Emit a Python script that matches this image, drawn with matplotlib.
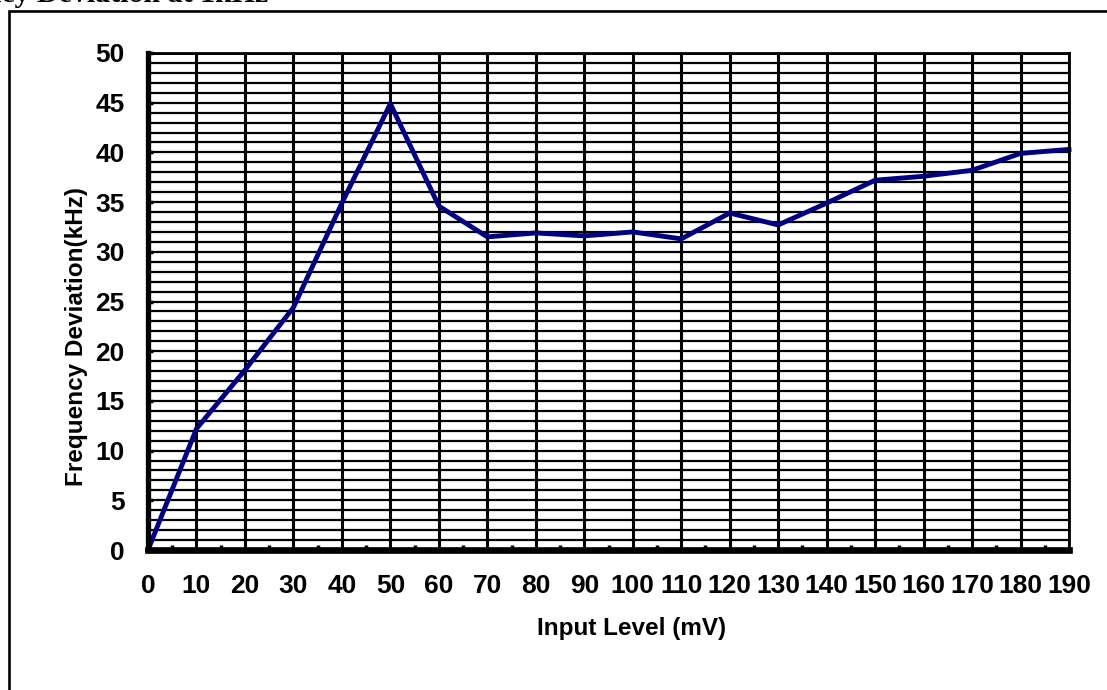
import matplotlib
matplotlib.use("Agg")
import matplotlib.pyplot as plt
from matplotlib.patches import Rectangle

# Data
input_level_mv = [0, 10, 20, 30, 40, 50, 60, 70, 80, 90, 100, 110, 120, 130, 140, 150, 160, 170, 180, 190]
deviation_khz = [0, 12.2, 18.1, 24.4, 34.9, 44.9, 34.6, 31.5, 31.9, 31.6, 32.0, 31.3, 33.9, 32.7, 34.9, 37.2, 37.6, 38.2, 39.9, 40.3]
x_ticks = list(range(0, 200, 10))
y_ticks = list(range(0, 55, 5))

W, H = 1107, 690
fig = plt.figure(figsize=(W / 100, H / 100), dpi=100)
fig.patch.set_facecolor("white")

L, R, T, B = 148, 1069, 53, 550
ax = fig.add_axes([L / W, 1 - B / H, (R - L) / W, (B - T) / H])

font = "Liberation Sans"
fs_tick = 19
fs_label = 17.5

# Gridlines
for y in range(1, 50):
    ax.axhline(y, color="black", lw=1.6, zorder=1)
for x in x_ticks[1:]:
    ax.axvline(x, color="black", lw=2.2, zorder=1)
ax.axhline(50, color="black", lw=2.0, zorder=1)

ax.plot(input_level_mv, deviation_khz, color="#000080", lw=3.5, zorder=3,
        solid_joinstyle="round", clip_on=False)

ax.set_xlim(0, 190)
ax.set_ylim(0, 50)

ax.set_xticks(x_ticks)
ax.set_xticklabels([str(v) for v in x_ticks], fontfamily=font, fontweight="bold", fontsize=fs_tick)
ax.set_xticks([v + 5 for v in x_ticks[:-1]], minor=True)
ax.set_yticks(y_ticks)
ax.set_yticklabels([str(v) for v in y_ticks], fontfamily=font, fontweight="bold", fontsize=fs_tick)

ax.tick_params(axis="x", which="major", length=0, pad=17.5)
ax.tick_params(axis="x", which="minor", direction="in", length=3.5, width=2.5, color="black")
ax.tick_params(axis="y", which="major", direction="in", length=3.5, width=2.5, pad=17, color="black")

for s in ["top", "right"]:
    ax.spines[s].set_linewidth(2.0)
ax.spines["left"].set_linewidth(3.8)
ax.spines["bottom"].set_linewidth(4.8)
for s in ax.spines.values():
    s.set_zorder(4)
    s.set_color("black")

ax.set_xlabel("Input Level (mV)", fontfamily=font, fontweight="bold", fontsize=fs_label,
              va="center", ha="center")
ax.xaxis.set_label_coords((632 - L) / (R - L), -(628 - B) / (B - T))
ax.set_ylabel("Frequency Deviation(kHz)", fontfamily=font, fontweight="bold", fontsize=fs_label,
              va="center", ha="center")
ax.yaxis.set_label_coords((77 - L) / (R - L), (B - 337) / (B - T))

# Outer frame of chart area
fig.patches.append(Rectangle((8.5 / W, -0.1), 1.2, 1 - 10.5 / H + 0.1,
                             transform=fig.transFigure, fill=False,
                             edgecolor="black", lw=1.9, zorder=0))

# Partially cropped title
fig.text(268 / W, 1 - 2.5 / H, "Frequency Deviation at 1kHz", ha="right", va="baseline",
         fontfamily="Liberation Serif", fontweight="bold", fontsize=21.5)

fig.savefig("out.png", dpi=100)
